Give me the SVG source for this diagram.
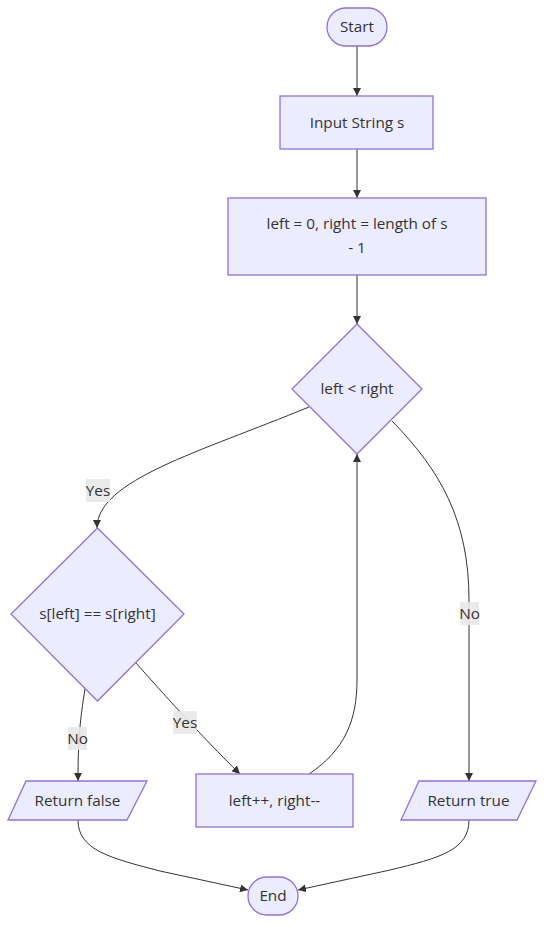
<svg xmlns="http://www.w3.org/2000/svg" width="552" height="937" viewBox="0 0 552 937">
<defs>
<marker id="arrow" viewBox="0 0 10 10" refX="10" refY="5" markerWidth="8" markerHeight="8" markerUnits="userSpaceOnUse" orient="auto">
<path d="M0,0 L10,5 L0,10 z" fill="#333"/>
</marker>
</defs>
<style>
.node{fill:#ECECFF;stroke:#9370DB;stroke-width:1.3}
.t{font-family:"Open Sans","Liberation Sans",Arial,sans-serif;font-size:15.3px;fill:#333;text-anchor:middle;dominant-baseline:central}
.e{fill:none;stroke:#333;stroke-width:1;marker-end:url(#arrow)}
.lb{fill:#e8e8e8;opacity:0.9}
</style>
<rect width="552" height="937" fill="#fff"/>
<g id="connectors">
<path class="e" d="M357,46 L357,96"/>
<path class="e" d="M357,149 L357,198"/>
<path class="e" d="M357,275 L357,324"/>
<path class="e" d="M309,407 C200,452 97,480 97,528"/>
<path class="e" d="M392,421 C440,470 469,520 469,600 L469,781"/>
<path class="e" d="M85,689 C80,720 78,740 78,781"/>
<path class="e" d="M136,663 C160,690 200,735 240,774"/>
<path class="e" d="M309,774 C345,750 357,720 357,680 L357,454"/>
<path class="e" d="M78,820 C78,850 110,858 160,871 L248,890"/>
<path class="e" d="M469,820 C469,850 440,858 390,870 L298,890"/>
</g>
<g id="edge-labels">
<g id="label-yes1"><rect class="lb" x="86" y="479" width="24" height="23"/><text class="t" x="98" y="490">Yes</text></g>
<g id="label-no1"><rect class="lb" x="460" y="602" width="19" height="23"/><text class="t" x="469.5" y="613">No</text></g>
<g id="label-no2"><rect class="lb" x="68" y="727" width="19" height="23"/><text class="t" x="77.5" y="738">No</text></g>
<g id="label-yes2"><rect class="lb" x="173" y="711" width="24" height="23"/><text class="t" x="185" y="722">Yes</text></g>
</g>
<g id="start"><rect class="node" x="327" y="8" width="60" height="38" rx="19" ry="19"/><text class="t" x="357" y="26">Start</text></g>
<g id="input"><rect class="node" x="280" y="96" width="153" height="53"/><text class="t" x="357" y="121.5">Input String s</text></g>
<g id="init"><rect class="node" x="228" y="198" width="258" height="77"/><text class="t" x="357" y="223">left = 0, right = length of s</text><text class="t" x="357" y="247">- 1</text></g>
<g id="cond1"><polygon class="node" points="357,324 422,389 357,454 292,389"/><text class="t" x="357" y="388">left &lt; right</text></g>
<g id="cond2"><polygon class="node" points="97.5,528 184,614 97.5,701 11,614"/><text class="t" x="97.5" y="613">s[left] == s[right]</text></g>
<g id="retfalse"><polygon class="node" points="26,781 147,781 127,820 8,820"/><text class="t" x="77.5" y="800">Return false</text></g>
<g id="step"><rect class="node" x="196" y="774" width="157" height="53"/><text class="t" x="274.5" y="799.5">left++, right--</text></g>
<g id="rettrue"><polygon class="node" points="419,781 536,781 517,820 401,820"/><text class="t" x="468.5" y="800">Return true</text></g>
<g id="end"><rect class="node" x="248" y="877" width="50" height="38" rx="19" ry="19"/><text class="t" x="273" y="895">End</text></g>
</svg>
